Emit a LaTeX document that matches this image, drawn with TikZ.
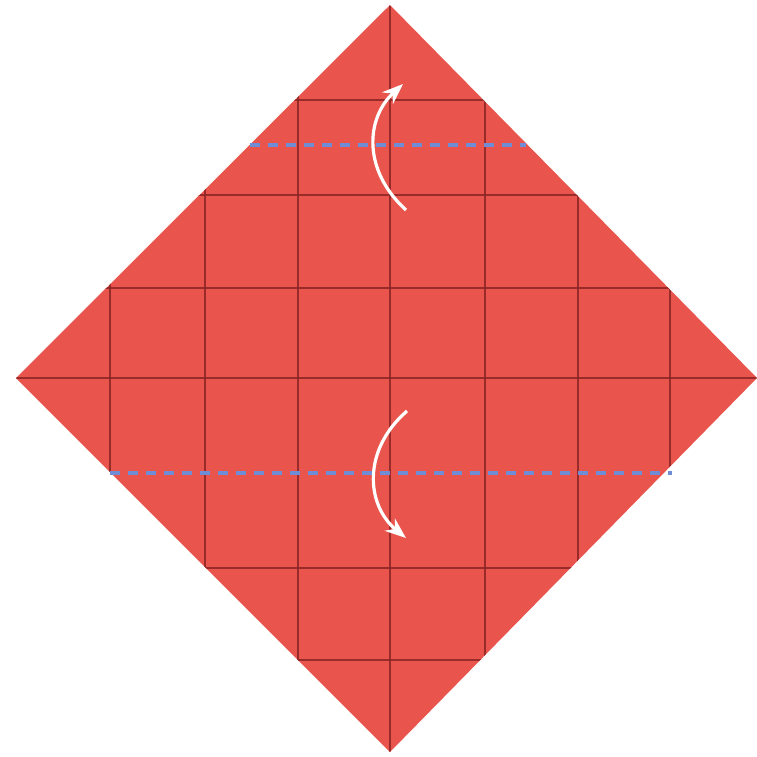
\documentclass[tikz,border=0pt]{standalone}
\usetikzlibrary{arrows.meta}
\definecolor{paper}{RGB}{233,84,76}
\definecolor{crease}{RGB}{140,38,38}
\definecolor{valley}{RGB}{112,140,212}
\tikzset{
  gridline/.style={draw=crease, line width=1.8pt, opacity=0.85},
  valleyfold/.style={draw=valley, line width=3.8pt, dash pattern=on 10pt off 8pt},
  foldarrow/.style={draw=white, line width=3.2pt, -{Stealth[length=21pt,width=16pt]}}
}
\begin{document}
\begin{tikzpicture}[x=1pt,y=-1pt]
\useasboundingbox (0,0) rectangle (757,756);
\coordinate (T) at (390,5);
\coordinate (R) at (757,378);
\coordinate (B) at (390,752);
\coordinate (L) at (16,378);
\fill[paper] (T) -- (R) -- (B) -- (L) -- cycle;
\begin{scope}
  \clip (T) -- (R) -- (B) -- (L) -- cycle;
  \foreach \y in {100,195,288,378,568,660} {
    \draw[gridline] (0,\y) -- (757,\y);
  }
  \foreach \x in {110,205,298,390,485,578,670} {
    \draw[gridline] (\x,0) -- (\x,756);
  }
\end{scope}
\coordinate (u1) at (250,145);
\coordinate (u2) at (526,145);
\coordinate (d1) at (110,473);
\coordinate (d2) at (672,473);
\draw[valleyfold] (u1) -- (u2);
\draw[valleyfold] (d1) -- (d2);
\coordinate (ua) at (406,210);
\coordinate (ub) at (403,84);
\coordinate (da) at (407,411);
\coordinate (db) at (406,538);
\draw[foldarrow] (ua) .. controls (362,170) and (366,118) .. (ub);
\draw[foldarrow] (da) .. controls (362,450) and (366,505) .. (db);
\end{tikzpicture}
\end{document}
